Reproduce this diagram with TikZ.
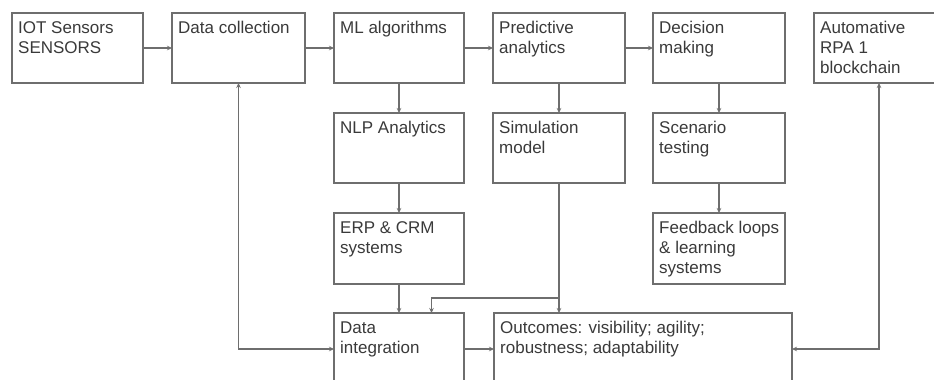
\documentclass[tikz,border=0pt]{standalone}
\usepackage{fontspec}
\setmainfont{Liberation Sans}
\usetikzlibrary{arrows.meta,calc}
\definecolor{linec}{HTML}{6E6E6E}
\definecolor{textc}{HTML}{3A3A3A}
\tikzset{
  box/.style={draw=linec, line width=1.3pt, inner sep=0pt, outer sep=0pt, anchor=north west},
  lbl/.style={anchor=north west, inner sep=0pt, align=left, text=textc,
    font=\fontsize{17}{20}\selectfont},
  arr/.style={draw=linec, line width=1.3pt, -{Stealth[length=5pt,width=4.5pt]}},
  darr/.style={draw=linec, line width=1.3pt, {Stealth[length=5pt,width=4.5pt]}-{Stealth[length=5pt,width=4.5pt]}}
}
\newcommand{\mybox}[6]{%
  \node[box, minimum width=#4pt, minimum height=#5pt] (#1) at (#2,#3) {};
  \node[lbl] (#1-t) at ($(#2,#3)+(6,6)$) {\rule{0pt}{14pt}#6};
}
\begin{document}
\begin{tikzpicture}[x=1pt,y=-1pt]
\useasboundingbox (0,0) rectangle (934,380);
\clip (0,0) rectangle (934,380);
\fill[white] (0,0) rectangle (934,380);
\mybox{iot}{12}{13}{131}{70}{IOT Sensors\\SENSORS}
\mybox{dc}{172}{13}{133}{70}{Data collection}
\mybox{ml}{334}{13}{130}{70}{ML algorithms}
\mybox{pred}{493}{13}{132}{70}{Predictive\\analytics}
\mybox{dec}{653}{13}{132}{70}{Decision\\making}
\mybox{auto}{814}{13}{130}{70}{Automative\\RPA 1\\blockchain}
\mybox{nlp}{334}{113}{130}{70}{NLP Analytics}
\mybox{sim}{493}{113}{132}{70}{Simulation\\model}
\mybox{scen}{653}{113}{132}{70}{Scenario\\testing}
\mybox{erp}{334}{213}{130}{71}{ERP \& CRM\\systems}
\mybox{feed}{653}{213}{132}{71}{Feedback loops\\\& learning\\systems}
\mybox{di}{334}{313}{130}{72}{Data\\integration}
\mybox{out}{494}{313}{298}{72}{Outcomes: visibility; agility;\\robustness; adaptability}

\draw[arr] (iot.east) -- (dc.west);
\draw[arr] (dc.east) -- (ml.west);
\draw[arr] (ml.east) -- (pred.west);
\draw[arr] (pred.east) -- (dec.west);
\draw[arr] (ml.south) -- (nlp.north);
\draw[arr] (nlp.south) -- (erp.north);
\draw[arr] (erp.south) -- (di.north);
\draw[arr] (pred.south) -- (sim.north);
\draw[arr] (dec.south) -- (scen.north);
\draw[arr] (scen.south) -- (feed.north);
\draw[arr] (sim.south) -- (sim.south |- out.north);
\coordinate (dij) at ($(di.north)!0.5!(di.north east)$);
\coordinate (simj) at ($(sim.south)!0.885!(sim.south |- out.north)$);
\draw[arr] (simj) -| (dij);
\draw[arr] (di.east) -- (out.west);
\draw[darr] (dc.south) |- (di.west);
\draw[darr] (auto.south) |- (out.east);
\end{tikzpicture}
\end{document}
